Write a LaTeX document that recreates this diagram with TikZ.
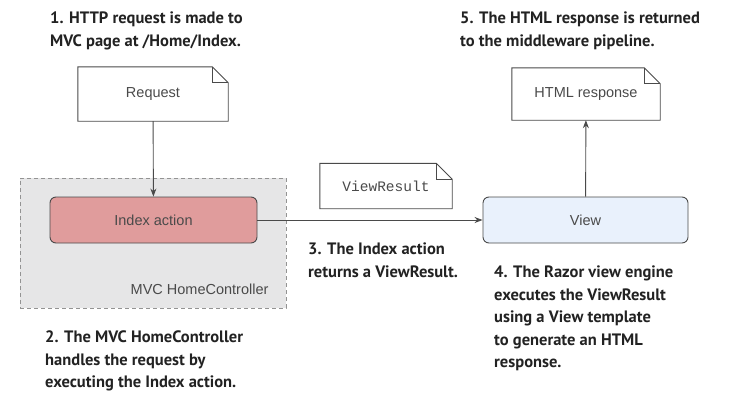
\documentclass[tikz,border=0pt]{standalone}
\usepackage{fontspec}
\setmainfont{Liberation Sans}
\setmonofont{Liberation Mono}
\newfontfamily\notefont{PT Sans}
\usepackage{tikz}
\usetikzlibrary{arrows.meta, positioning, calc}

\definecolor{lineGrey}{HTML}{4A4A4A}
\definecolor{ctrlFill}{HTML}{E6E6E7}
\definecolor{actionFill}{HTML}{E09C9C}
\definecolor{viewFill}{HTML}{E9F1FC}
\definecolor{noteText}{HTML}{222222}

\tikzset{
  docbox/.style={minimum width=150pt, minimum height=54pt, inner sep=0pt,
    font=\fontsize{14.5}{16}\selectfont, text=lineGrey},
  stepbox/.style={draw=lineGrey, line width=0.9pt, rounded corners=6pt,
    minimum width=206pt, minimum height=46pt, inner sep=0pt,
    font=\fontsize{14.5}{16}\selectfont, text=lineGrey},
  note/.style={anchor=north west, align=left, inner sep=0pt, text=noteText,
    font=\notefont\bfseries\fontsize{16.5}{22.5}\selectfont},
  docline/.style={draw=lineGrey, line width=0.9pt, line join=miter},
  flow/.style={draw=lineGrey, line width=0.9pt, -{Stealth[length=8pt, width=6pt]}}
}

\begin{document}
\begin{tikzpicture}[x=1pt, y=-1pt]
    \useasboundingbox (0,0) rectangle (738,402);

    % --- Controller container ---
    \node[draw=gray!85, fill=ctrlFill, dash pattern=on 4pt off 3pt, line width=0.8pt,
      minimum width=266pt, minimum height=130pt, inner sep=0pt] (ctrl) at (153,243) {};
    \node[anchor=east, font=\fontsize{14.5}{16}\selectfont, text=lineGrey] (ctrlname) at (272,289) {MVC HomeController};

    % --- Documents ---
    \node[docbox] (request) at (153,94) {Request};
    \node[docbox, minimum width=148pt, minimum height=52pt] (response) at (586,94) {HTML response};
    \node[docbox, minimum width=132pt, minimum height=45pt,
      font=\ttfamily\fontsize{14.5}{16}\selectfont] (viewresult) at (386,186) {ViewResult};

    \foreach \n in {request, response, viewresult} {
      \draw[docline] (\n.south west) -- (\n.north west) -- ([xshift=-16pt]\n.north east)
        -- ([yshift=-16pt]\n.north east) -- (\n.south east) -- cycle;
      \draw[docline] ([xshift=-16pt]\n.north east) |- ([yshift=-16pt]\n.north east);
    }

    % --- Action and view ---
    \node[stepbox, fill=actionFill, minimum width=207pt] (action) at (153.5,220) {Index action};
    \node[stepbox, fill=viewFill, minimum width=205pt] (view) at (585.5,220) {View};

    % --- Connectors ---
    \draw[flow] (request) -- (action);
    \draw[flow] (action) -- (view);
    \draw[flow] (view) -- (response);

    % --- Notes ---
    \node[note] (note1) at (50,12) {1. HTTP request is made to\\MVC page at /Home/Index.};
    \node[note] (note2) at (45,331) {2. The MVC HomeController\\handles the request by\\executing the Index action.};
    \node[note] (note3) at (308,243) {3. The Index action\\returns a ViewResult.};
    \node[note] (note4) at (494,266) {4. The Razor view engine\\executes the ViewResult\\using a View template\\to generate an HTML\\response.};
    \node[note] (note5) at (460,12) {5. The HTML response is returned\\to the middleware pipeline.};
  \end{tikzpicture}
\end{document}
